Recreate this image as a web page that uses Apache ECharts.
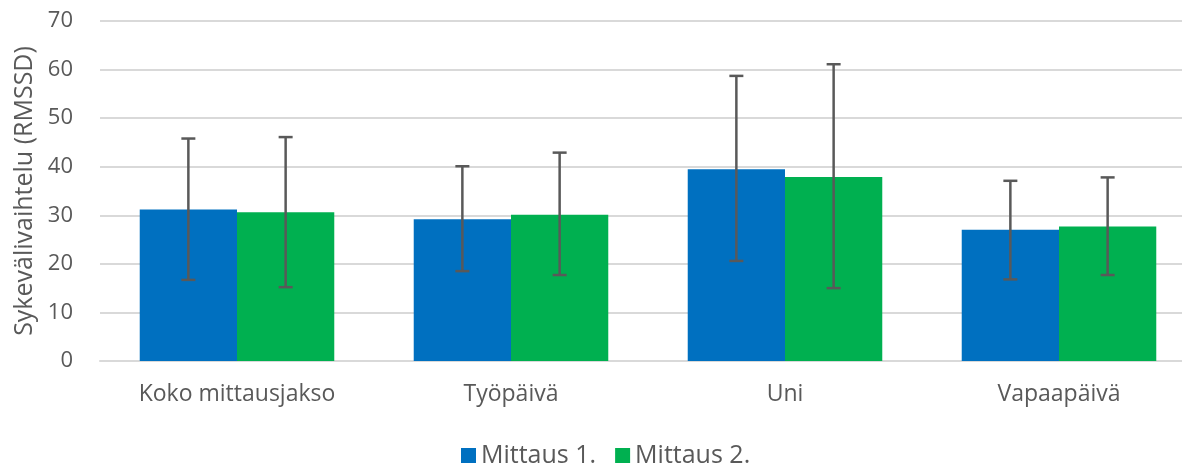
<!DOCTYPE html>
<html><head><meta charset="utf-8">
<script src="https://cdn.jsdelivr.net/npm/echarts@6/dist/echarts.min.js"></script>
<style>html,body{margin:0;padding:0;background:#fff;overflow:hidden}#c{width:1196px;height:464px}</style>
</head><body><div id="c"></div>
<script>
const categories = ['Koko mittausjakso', 'Työpäivä', 'Uni', 'Vapaapäivä'];
const seriesNames = ['Mittaus 1.', 'Mittaus 2.'];
const mittaus1 = [31.2, 29.2, 39.5, 27.0];
const mittaus2 = [30.6, 30.1, 37.9, 27.7];
const err1Low = [16.7, 18.5, 20.6, 16.8];
const err1High = [45.8, 40.1, 58.7, 37.1];
const err2Low = [15.2, 17.7, 15.0, 17.7];
const err2High = [46.1, 42.9, 61.1, 37.8];
const yTicks = [0, 10, 20, 30, 40, 50, 60, 70];

const colors = ['#0070C0', '#00B050'];
const catGap = 0.29;
const textColor = '#595959';
const font = 'Open Sans';

function errSeries(idx, lows, highs) {
  return {
    type: 'custom',
    name: seriesNames[idx] + ' err',
    z: 10,
    silent: true,
    data: categories.map((c, i) => [i, lows[i], highs[i]]),
    encode: { x: 0, y: [1, 2] },
    renderItem: function (params, api) {
      const band = api.size([1, 0])[0];
      const bw = band * (1 - catGap) / 2;
      const off = (idx === 0 ? -1 : 1) * bw / 2;
      const lo = api.coord([api.value(0), api.value(1)]);
      const hi = api.coord([api.value(0), api.value(2)]);
      const x = lo[0] + off;
      const cap = 7;
      const st = { stroke: textColor, lineWidth: 2.5 };
      return {
        type: 'group',
        children: [
          { type: 'line', shape: { x1: x, y1: lo[1], x2: x, y2: hi[1] }, style: st },
          { type: 'line', shape: { x1: x - cap, y1: hi[1], x2: x + cap, y2: hi[1] }, style: st },
          { type: 'line', shape: { x1: x - cap, y1: lo[1], x2: x + cap, y2: lo[1] }, style: st }
        ]
      };
    }
  };
}

const chart = echarts.init(document.getElementById('c'));
chart.setOption({
  animation: false,
  textStyle: { fontFamily: font },
  grid: { left: 100, right: 0, top: 21, height: 340 },
  legend: {
    data: seriesNames,
    top: 438,
    left: 456,
    itemWidth: 15, itemHeight: 15, itemGap: 19,
    icon: 'rect',
    textStyle: { color: textColor, fontSize: 25, fontFamily: font }
  },
  xAxis: {
    type: 'category',
    data: categories,
    axisLine: { show: true, lineStyle: { color: '#D9D9D9', width: 2 } },
    axisTick: { show: false },
    axisLabel: { color: textColor, fontSize: 23, margin: 22, fontFamily: font }
  },
  yAxis: {
    type: 'value',
    min: yTicks[0], max: yTicks[yTicks.length - 1], interval: 10,
    name: 'Sykevälivaihtelu (RMSSD)',
    nameLocation: 'middle',
    nameGap: 63,
    nameTextStyle: { color: textColor, fontSize: 25, fontFamily: font },
    axisLabel: { color: textColor, fontSize: 22, margin: 27, fontFamily: font },
    splitLine: { lineStyle: { color: '#D9D9D9', width: 2 } },
    axisLine: { show: false }, axisTick: { show: false }
  },
  series: [
    { name: seriesNames[0], type: 'bar', data: mittaus1, barGap: '0%', barCategoryGap: (catGap * 100) + '%', itemStyle: { color: colors[0] } },
    { name: seriesNames[1], type: 'bar', data: mittaus2, barGap: '0%', barCategoryGap: (catGap * 100) + '%', itemStyle: { color: colors[1] } },
    errSeries(0, err1Low, err1High),
    errSeries(1, err2Low, err2High)
  ]
});
</script></body></html>
